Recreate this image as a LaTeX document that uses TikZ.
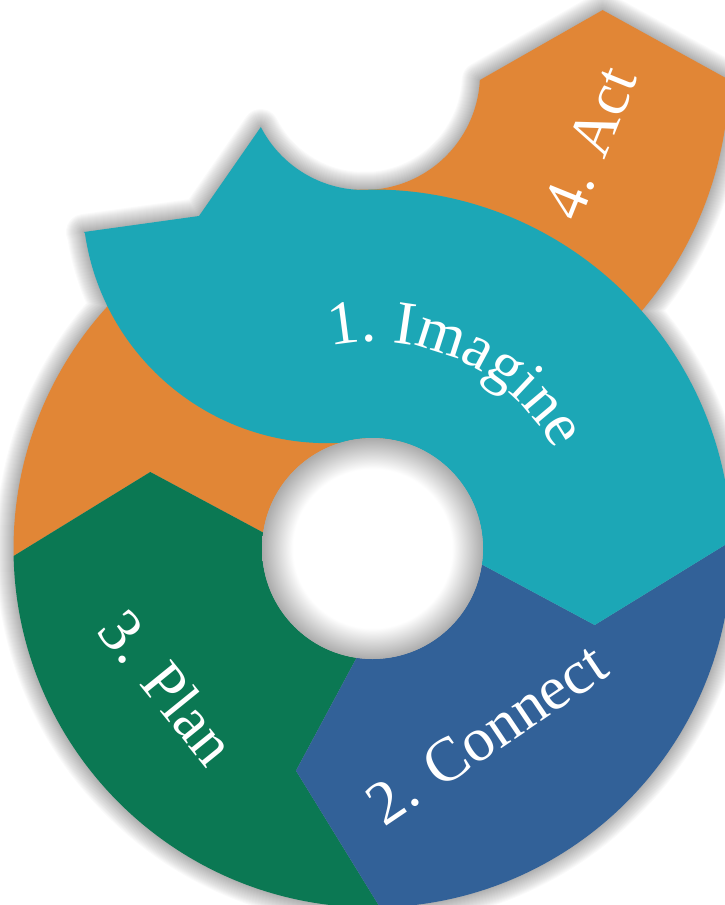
\documentclass[tikz,border=0pt]{standalone}
\usepackage{fontspec}
\newfontfamily\stepfont{Liberation Serif}
\usetikzlibrary{calc,decorations.text}
\definecolor{imaginecol}{RGB}{28,167,182}
\definecolor{connectcol}{RGB}{50,97,152}
\definecolor{plancol}{RGB}{11,120,83}
\definecolor{actcol}{RGB}{225,134,54}
\pgfdeclareradialshading{holeshade}{\pgfpoint{0bp}{0bp}}{color(0bp)=(white); color(18bp)=(white); color(25bp)=(black!33); color(50bp)=(black!33)}
\tikzset{
  steptext/.style={text=white, font=\stepfont\fontsize{62}{70}\selectfont, inner sep=0pt},
  halo/.style={draw=black, opacity=.018, line join=round},
}

\begin{document}
\begin{tikzpicture}[x=1pt,y=1pt]
\useasboundingbox (0,-905) rectangle (724,0);
\coordinate (L) at (372.5,-548.5);
\coordinate (U) at (364,-74);
\coordinate (Q) at (327,-197);
\coordinate (O0) at ($(L)+(1.2:359)$);
\coordinate (T0) at ($(L)+(-19:235)$);
\coordinate (I0) at ($(L)+(-8.3:110.5)$);
\coordinate (O1) at ($(L)+(-88.8:359)$);
\coordinate (T1) at ($(L)+(-109:235)$);
\coordinate (I1) at ($(L)+(-98.3:110.5)$);
\coordinate (O2) at ($(L)+(181.2:359)$);
\coordinate (T2) at ($(L)+(161:235)$);
\coordinate (I2) at ($(L)+(171.7:110.5)$);
\coordinate (Tu) at ($(U)+(15:247)$);
\coordinate (Iu) at ($(U)+(-3:116)$);
\coordinate (A) at (84,-232);
\coordinate (N) at (199,-216);
\coordinate (P) at ($(U)+(207.2:116)$);
\def\connectshape{(O0) arc[start angle=1.2,end angle=-88.8,radius=359] -- (T1) -- (I1) arc[start angle=-98.3,end angle=-8.3,radius=110.5] -- (T0) -- cycle}
\def\planshape{(O1) arc[start angle=-88.8,end angle=-178.8,radius=359] -- (T2) -- (I2) arc[start angle=171.7,end angle=261.7,radius=110.5] -- (T1) -- cycle}
\def\actlowshape{(O2) arc[start angle=181.2,end angle=70,radius=359] -- ($(L)+(70:110.5)$) arc[start angle=70,end angle=171.7,radius=110.5] -- (T2) -- cycle}
\def\actshape{($(U)+(-95:365)$) arc[start angle=-95,end angle=-0.9,radius=365] -- (Tu) -- (Iu) arc[start angle=-3,end angle=-95,radius=116] -- cycle}
\def\imagineshape{(A) -- (N) -- (P) arc[start angle=207.2,end angle=270,radius=116] -- ($(L)+(90:359)$) arc[start angle=90,end angle=1.2,radius=359] -- (T0) -- (I0) arc[start angle=-8.3,end angle=107,radius=110.5] arc[start angle=-87,end angle=-171.8,radius=245] -- cycle}

\foreach \w in {2,4,...,36}
  \draw[halo, line width=\w pt] \connectshape \planshape \actlowshape \actshape \imagineshape;

\fill[actcol] \actlowshape;
\fill[actcol] \actshape;
\fill[plancol] \planshape;
\fill[connectcol] \connectshape;
\fill[imaginecol] \imagineshape;
\shade[shading=holeshade] (L) circle[radius=110.5];

\path[decorate, decoration={text along path, text align=center, text color=white,
  text={|\stepfont\fontsize{62}{70}\selectfont|1. Imagine}}]
  ($(L)+(125:207)$) arc[start angle=125,end angle=5,radius=207];
\node[steptext, rotate=34] (connect) at (487,-734) {2. Connect};
\node[steptext, rotate=-51] (plan) at (168,-687) {3. Plan};
\node[steptext, rotate=68] (act) at (590,-143) {4. Act};
\end{tikzpicture}
\end{document}
